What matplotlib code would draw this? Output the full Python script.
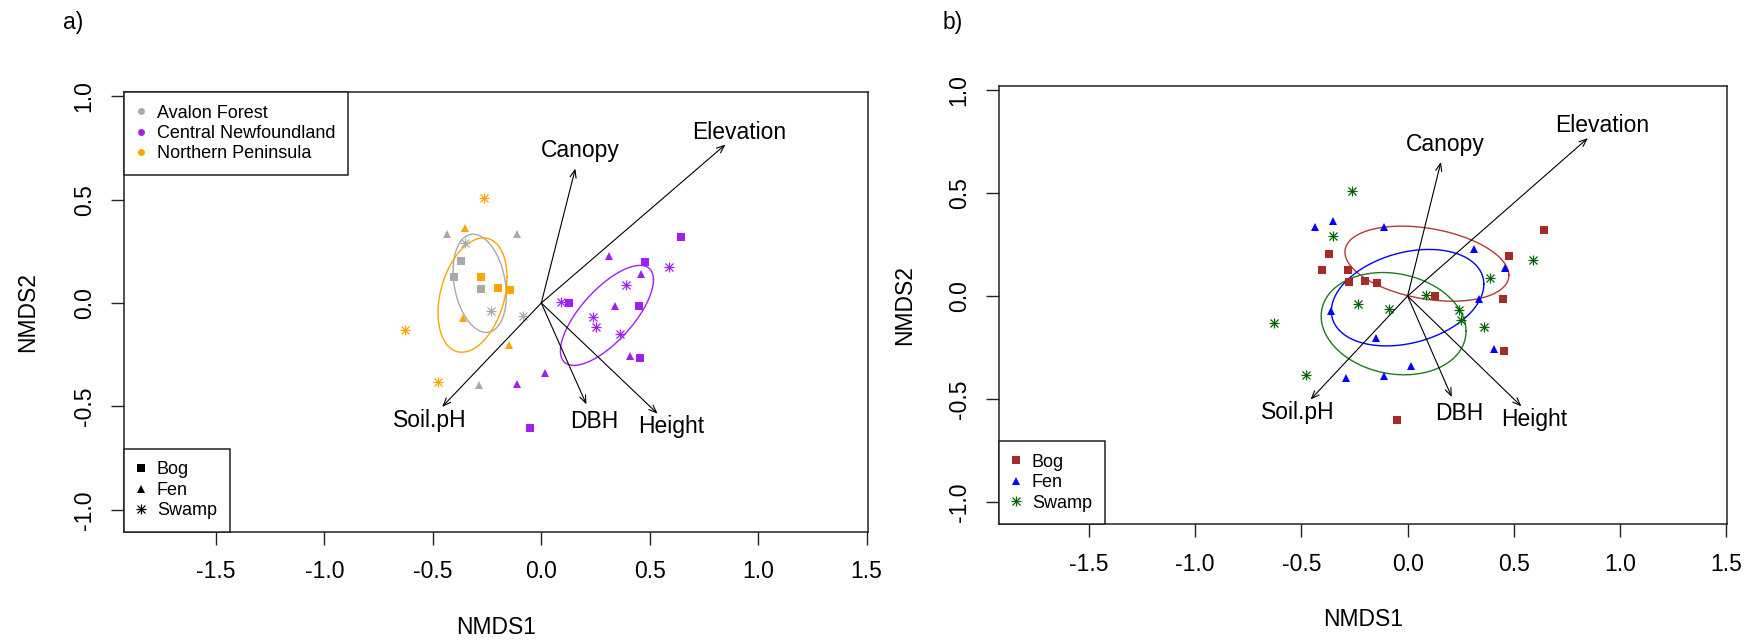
import numpy as np
import matplotlib
matplotlib.use("Agg")
import matplotlib.pyplot as plt
from matplotlib.lines import Line2D

plt.rcParams['font.family'] = ['Liberation Sans', 'DejaVu Sans']

# ---------------- data ----------------
# site scores (NMDS1, NMDS2), location and wetland type
nmds1 = [-0.437, -0.112, -0.350, -0.371, -0.402, -0.278, -0.232, -0.086, -0.288,
         -0.263, -0.351, -0.280, -0.199, -0.144, -0.363, -0.628, -0.148, -0.477,
         0.642, 0.312, 0.476, 0.591, 0.461, 0.389, 0.089, 0.129, 0.338, 0.449,
         0.240, 0.252, 0.361, 0.409, 0.455, 0.017, -0.112, -0.051]
nmds2 = [0.333, 0.333, 0.292, 0.204, 0.126, 0.068, -0.041, -0.062, -0.397,
         0.508, 0.362, 0.128, 0.073, 0.062, -0.073, -0.130, -0.204, -0.381,
         0.320, 0.227, 0.196, 0.176, 0.138, 0.086, 0.004, -0.002, -0.013, -0.015,
         -0.069, -0.118, -0.152, -0.258, -0.266, -0.338, -0.390, -0.602]
location = ["Avalon Forest"] * 9 + ["Northern Peninsula"] * 9 + ["Central Newfoundland"] * 18
wtype = ["Fen", "Fen", "Swamp", "Bog", "Bog", "Bog", "Swamp", "Swamp", "Fen",
         "Swamp", "Fen", "Bog", "Bog", "Bog", "Fen", "Swamp", "Fen", "Swamp",
         "Bog", "Fen", "Bog", "Swamp", "Fen", "Swamp", "Swamp", "Bog", "Fen", "Bog",
         "Swamp", "Swamp", "Swamp", "Fen", "Bog", "Fen", "Fen", "Bog"]

locations = ["Avalon Forest", "Central Newfoundland", "Northern Peninsula"]
location_colors = ["#A9A9A9", "#A020F0", "#FFA500"]
types = ["Bog", "Fen", "Swamp"]
type_colors = ["#A52A2A", "#0000FF", "#006400"]
type_ellipse_colors = ["#B03A3A", "#0000FF", "#1E7B1E"]

# environmental fit vectors
env_names = ["Elevation", "Canopy", "Soil.pH", "DBH", "Height"]
env_x = [0.849, 0.157, -0.457, 0.208, 0.536]
env_y = [0.766, 0.650, -0.502, -0.490, -0.535]

# panel b ellipses: centre, sd along axes, covariance
ell_b_cx = [0.091, 0.000, -0.066]
ell_b_cy = [0.157, -0.008, -0.134]
ell_b_sx = [0.386, 0.359, 0.341]
ell_b_sy = [0.182, 0.234, 0.248]
ell_b_cov = [-0.0217, 0.0234, -0.0125]

xticks = [-1.5, -1.0, -0.5, 0.0, 0.5, 1.0, 1.5]
yticks = [-1.0, -0.5, 0.0, 0.5, 1.0]

# ---------------- helpers ----------------
X = np.array(nmds1)
Y = np.array(nmds2)
LOC = np.array(location)
TYP = np.array(wtype)

FS = 16.5


def draw_marker(ax, x, y, kind, color):
    if kind == "Bog":
        ax.plot(x, y, ls="none", marker="s", ms=5.8, color=color, mew=0, zorder=3)
    elif kind == "Fen":
        ax.plot(x, y, ls="none", marker="^", ms=5.8, color=color, mew=0, zorder=3)
    else:
        ax.plot(x, y, ls="none", marker="+", ms=7.5, color=color, mew=0.9, zorder=3)
        ax.plot(x, y, ls="none", marker="x", ms=5.5, color=color, mew=0.9, zorder=3)


def ellipse_from_cov(ax, cx, cy, cov, color):
    L = np.linalg.cholesky(np.asarray(cov))
    t = np.linspace(0, 2 * np.pi, 240)
    pts = L @ np.vstack([np.cos(t), np.sin(t)])
    ax.plot(cx + pts[0], cy + pts[1], color=color, lw=1.0, zorder=2)


def draw_arrows(ax):
    for name, vx, vy in zip(env_names, env_x, env_y):
        ax.annotate("", xy=(vx, vy), xytext=(0, 0),
                    arrowprops=dict(arrowstyle="->,head_length=0.55,head_width=0.22",
                                    lw=0.8, color="black", shrinkA=0, shrinkB=0),
                    zorder=4)
        ln = np.hypot(vx, vy)
        ax.text(vx + 0.088 * vx / ln, vy + 0.088 * vy / ln, name,
                ha="center", va="center", fontsize=FS, zorder=5)


def style_axes(ax):
    ax.set_xlim(-1.924, 1.504)
    ax.set_ylim(-1.107, 1.02)
    ax.set_xticks(xticks)
    ax.set_xticklabels([f"{v:.1f}" for v in xticks], fontsize=FS)
    ax.set_yticks(yticks)
    ax.set_yticklabels([f"{v:.1f}" for v in yticks], fontsize=FS,
                       rotation=90, va="center")
    ax.tick_params(direction="out", length=9.4, width=1.0, pad=11, color="#222222")
    for s in ax.spines.values():
        s.set_linewidth(1.1)
        s.set_color("#222222")
    ax.set_xlabel("NMDS1", fontsize=FS)
    ax.set_ylabel("NMDS2", fontsize=FS)
    ax.xaxis.set_label_coords(0.5, -0.218)
    ax.xaxis.label.set_va("center")
    ax.yaxis.set_label_coords(-0.129, 0.5)
    ax.yaxis.label.set_va("center")
    ax.yaxis.label.set_ha("center")


def make_legend(ax, handles, labels, loc):
    leg = ax.legend(handles, labels, loc=loc, borderaxespad=0, frameon=True,
                    fancybox=False, edgecolor="#222222", framealpha=1,
                    fontsize=13, handlelength=0.49, handletextpad=0.63,
                    borderpad=0.7, labelspacing=0.19)
    leg.get_frame().set_linewidth(1.1)
    return leg


def type_handles(colors):
    hs = []
    for kind, c in zip(types, colors):
        if kind == "Bog":
            hs.append(Line2D([], [], ls="none", marker="s", ms=5.8, color=c, mew=0))
        elif kind == "Fen":
            hs.append(Line2D([], [], ls="none", marker="^", ms=5.8, color=c, mew=0))
        else:
            hs.append((Line2D([], [], ls="none", marker="+", ms=7.5, color=c, mew=0.9),
                       Line2D([], [], ls="none", marker="x", ms=5.5, color=c, mew=0.9)))
    return hs


# ---------------- figure ----------------
W, H = 1754, 643
fig = plt.figure(figsize=(W / 100, H / 100), dpi=100)

axa = fig.add_axes([124 / W, (H - 532) / H, 743.5 / W, 440 / H])
axb = fig.add_axes([999 / W, (H - 524.3) / H, 728 / W, 438.6 / H])

# ---- panel a: coloured by location, shaped by type ----
for loc_name, col in zip(locations, location_colors):
    m = LOC == loc_name
    ellipse_from_cov(axa, X[m].mean(), Y[m].mean(), np.cov(X[m], Y[m]), col)
for loc_name, col in zip(locations, location_colors):
    for kind in types:
        m = (LOC == loc_name) & (TYP == kind)
        if m.any():
            draw_marker(axa, X[m], Y[m], kind, col)
draw_arrows(axa)
style_axes(axa)

loc_handles = [Line2D([], [], ls="none", marker="o", ms=5, color=c, mew=0)
               for c in location_colors]
leg1 = make_legend(axa, loc_handles, locations, "upper left")
axa.add_artist(leg1)
make_legend(axa, type_handles(["black"] * 3), types, "lower left")

# ---- panel b: coloured and shaped by type ----
for i, (kind, col) in enumerate(zip(types, type_ellipse_colors)):
    cov = [[ell_b_sx[i] ** 2, ell_b_cov[i]], [ell_b_cov[i], ell_b_sy[i] ** 2]]
    ellipse_from_cov(axb, ell_b_cx[i], ell_b_cy[i], cov, col)
for kind, col in zip(types, type_colors):
    m = TYP == kind
    draw_marker(axb, X[m], Y[m], kind, col)
draw_arrows(axb)
style_axes(axb)
make_legend(axb, type_handles(type_colors), types, "lower left")

fig.text(73.5 / W, 1 - 23 / H, "a)", ha="center", va="center", fontsize=FS)
fig.text(953 / W, 1 - 23 / H, "b)", ha="center", va="center", fontsize=FS)

fig.savefig("out.png", dpi=100)
